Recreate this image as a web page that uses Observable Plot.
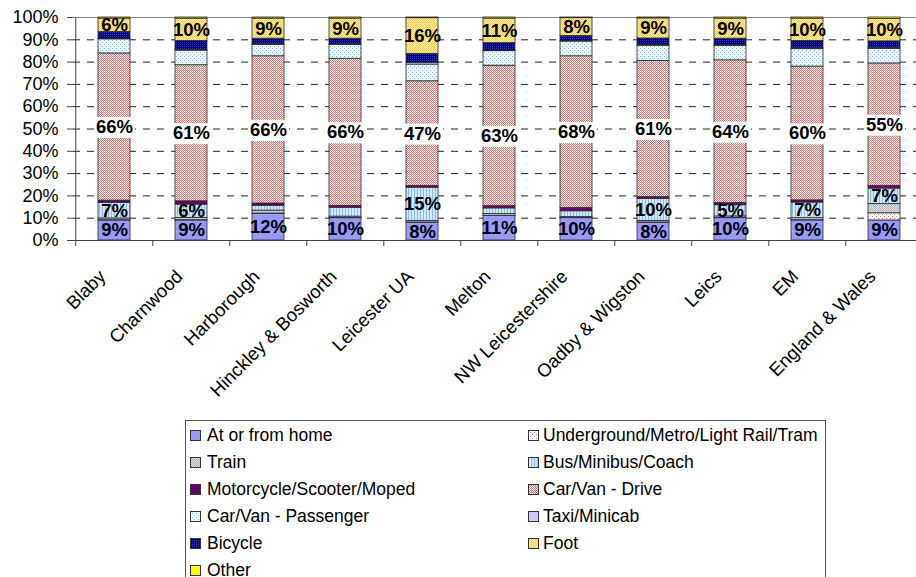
<!DOCTYPE html>
<html>
<head>
<meta charset="utf-8">
<script src="https://cdn.jsdelivr.net/npm/d3@7"></script>
<script src="https://cdn.jsdelivr.net/npm/@observablehq/plot@0.6"></script>
<style>
  body { margin: 0; background: #fff; font-family: "Liberation Sans", Arial, sans-serif; }
  #wrap { position: relative; width: 916px; height: 577px; overflow: hidden; background: #fff; }
  #chart { position: absolute; left: 0; top: 0; }
  #legend { position: absolute; left: 185px; top: 420px; width: 641px; height: 180px;
            border: 1px solid #555; box-sizing: border-box; background: #fff; }
  .item { position: absolute; height: 20px; display: flex; align-items: center;
          font-size: 17.5px; color: #000; white-space: nowrap; }
  .item svg { margin-right: 6px; flex: none; }
  .item.right svg { margin-right: 4px; }
</style>
</head>
<body>
<div id="wrap">
  <svg width="0" height="0" style="position:absolute">
    <defs>
      <pattern id="p-under" width="4" height="4" patternUnits="userSpaceOnUse">
        <rect width="4" height="4" fill="#fff"/>
        <rect x="0" y="0" width="1" height="1" fill="#E0709A"/>
        <rect x="2" y="2" width="1" height="1" fill="#E0709A"/>
      </pattern>
      <pattern id="p-train" width="2" height="2" patternUnits="userSpaceOnUse">
        <rect width="2" height="2" fill="#E2E2E2"/>
        <rect x="0" y="0" width="1" height="1" fill="#B2B2B2"/>
        <rect x="1" y="1" width="1" height="1" fill="#B2B2B2"/>
      </pattern>
      <pattern id="p-bus" width="3" height="3" patternUnits="userSpaceOnUse">
        <rect width="3" height="3" fill="#D3E8FF"/>
        <rect x="0" y="0" width="1" height="3" fill="#86BBF0"/>
      </pattern>
      <pattern id="p-drive" width="2" height="2" patternUnits="userSpaceOnUse">
        <rect width="2" height="2" fill="#fff"/>
        <rect x="0" y="0" width="1" height="1" fill="#F06868"/>
        <rect x="1" y="1" width="1" height="1" fill="#F06868"/>
      </pattern>
      <pattern id="p-pass" width="4" height="4" patternUnits="userSpaceOnUse">
        <rect width="4" height="4" fill="#EDF6FF"/>
        <rect x="0" y="0" width="1" height="1" fill="#7FB5EA"/>
        <rect x="2" y="2" width="1" height="1" fill="#7FB5EA"/>
      </pattern>
      <pattern id="p-bike" width="2" height="2" patternUnits="userSpaceOnUse">
        <rect width="2" height="2" fill="#000080"/>
        <rect x="0" y="0" width="1" height="1" fill="#3434B8"/>
      </pattern>
      <pattern id="p-foot" width="2" height="2" patternUnits="userSpaceOnUse">
        <rect width="2" height="2" fill="#FFEE9C"/>
        <rect x="0" y="0" width="1" height="1" fill="#F2CC5E"/>
        <rect x="1" y="1" width="1" height="1" fill="#F2CC5E"/>
      </pattern>
    </defs>
  </svg>
  <div id="chart"></div>
  <div id="legend"></div>
</div>
<script>
// Areas along the x axis
const areas = ["Blaby", "Charnwood", "Harborough", "Hinckley & Bosworth", "Leicester UA", "Melton",
  "NW Leicestershire", "Oadby & Wigston", "Leics", "EM", "England & Wales"];

// Modes of travel to work, stacked bottom to top
const modes = ["At or from home", "Underground/Metro/Light Rail/Tram", "Train", "Bus/Minibus/Coach",
  "Motorcycle/Scooter/Moped", "Car/Van - Drive", "Car/Van - Passenger", "Taxi/Minicab",
  "Bicycle", "Foot", "Other"];

// Share of working residents using each mode (%), one value per area
const atHome       = [9, 9, 12, 10, 8, 11, 10, 8, 10, 9, 9];
const underground  = [0.1, 0.1, 0.1, 0.1, 0.1, 0.1, 0.1, 0.1, 0.1, 0.1, 3.2];
const train        = [0.8, 1.0, 1.3, 0.6, 0.6, 0.8, 0.5, 0.6, 0.7, 0.9, 4.1];
const bus          = [7, 6, 2.2, 4.0, 15, 2.5, 2.5, 10, 5, 7, 7];
const motorcycle   = [1.0, 1.5, 1.0, 0.8, 0.7, 1.0, 1.5, 0.8, 1.0, 1.0, 1.1];
const carDrive     = [66, 61, 66, 66, 47, 63, 68, 61, 64, 60, 55];
const carPassenger = [6.3, 6.5, 5.1, 6.2, 7.5, 6.5, 6.6, 6.8, 6.4, 7.8, 6.5];
const taxi         = [0.3, 0.4, 0.3, 0.3, 0.8, 0.3, 0.3, 0.4, 0.3, 0.4, 0.5];
const bicycle      = [3.0, 4.0, 2.5, 2.5, 4.0, 3.3, 2.2, 2.9, 3.0, 3.3, 2.9];
const foot         = [6, 10, 9, 9, 16, 11, 8, 9, 9, 10, 10];
const other        = [0.5, 0.5, 0.5, 0.5, 0.3, 0.5, 0.3, 0.4, 0.5, 0.5, 0.7];

const series = [atHome, underground, train, bus, motorcycle, carDrive, carPassenger, taxi, bicycle, foot, other];

// Y axis ticks
const yTicks = [0, 10, 20, 30, 40, 50, 60, 70, 80, 90, 100];

// Fill (solid colour or pattern) for each mode
const fills = {
  "At or from home": "#9999FF",
  "Underground/Metro/Light Rail/Tram": "url(#p-under)",
  "Train": "url(#p-train)",
  "Bus/Minibus/Coach": "url(#p-bus)",
  "Motorcycle/Scooter/Moped": "#660066",
  "Car/Van - Drive": "url(#p-drive)",
  "Car/Van - Passenger": "url(#p-pass)",
  "Taxi/Minicab": "#CCCCFF",
  "Bicycle": "url(#p-bike)",
  "Foot": "url(#p-foot)",
  "Other": "#FFFF00"
};

const rows = areas.flatMap((area, i) => modes.map((mode, j) => ({area, mode, value: series[j][i]})));

// Value labels: home and foot always; bus where it reaches 5%
function labelOf(d) {
  if (d.mode === "At or from home" || d.mode === "Foot") return d.value + "%";
  if (d.mode === "Bus/Minibus/Coach" && d.value >= 5) return d.value + "%";
  return null;
}
// Car driver labels sit on a white box
const driveLabel = d => d.mode === "Car/Van - Drive" ? d.value + "%" : null;

const x0 = 72.7, x1 = 924.5;
const step = (x1 - x0) / areas.length;
const stackOpts = {x: "area", y: "value", z: "mode", order: modes};

const chart = Plot.plot({
  width: 916,
  height: 415,
  marginLeft: 73,
  marginTop: 17,
  marginRight: 0,
  marginBottom: 175,
  x: {domain: areas, range: [x0, x1], paddingInner: 0.587, paddingOuter: 0.2935, label: null},
  y: {domain: [0, 100], label: null},
  color: {type: "identity"},
  style: {fontFamily: "'Liberation Sans', Arial, sans-serif", color: "#000", background: "transparent", overflow: "visible"},
  marks: [
    Plot.ruleY(yTicks.filter(v => v > 0 && v < 100), {stroke: "#222", strokeDasharray: "7,7", strokeWidth: 1}),
    Plot.ruleY([100], {stroke: "#8a8a8a"}),
    Plot.barY(rows, Plot.stackY({...stackOpts, fill: d => fills[d.mode], stroke: "#2a2a2a", strokeWidth: 0.8})),
    Plot.ruleY([0], {stroke: "#444"}),
    Plot.ruleX([areas[0]], {x: d => d, dx: -step / 2, y1: 0, y2: 100, stroke: "#444"}),
    Plot.ruleX(areas, {x: d => d, dx: -step / 2, y1: 0, y2: -2.7, stroke: "#444"}),
    Plot.axisY({ticks: yTicks, tickFormat: d => d + "%", tickSize: 6, tickPadding: 9, fontSize: 18, stroke: "#444"}),
    Plot.axisX({tickSize: 0, tickRotate: -45, tickPadding: 33, dx: -12, fontSize: 18.5}),
    Plot.text(rows, Plot.stackY({...stackOpts, text: labelOf, fontWeight: "bold", fontSize: 18.5, fill: "#000"})),
    Plot.text(rows, Plot.stackY({...stackOpts, text: driveLabel, fontWeight: "bold", fontSize: 18.5, fill: "#000", ariaDescription: "drive-label"}))
  ]
});

document.getElementById("chart").append(chart);

// White background boxes behind the car-driver labels
chart.querySelectorAll('g[aria-description="drive-label"] text').forEach(t => {
  const b = t.getBBox();
  if (!b.width) return;
  const r = document.createElementNS("http://www.w3.org/2000/svg", "rect");
  r.setAttribute("x", b.x - 2);
  r.setAttribute("y", b.y + 1);
  r.setAttribute("width", b.width + 4);
  r.setAttribute("height", b.height);
  r.setAttribute("fill", "#fff");
  r.setAttribute("stroke", "none");
  const tr = t.getAttribute("transform");
  if (tr) r.setAttribute("transform", tr);
  t.parentNode.insertBefore(r, t);
});

// Legend: two columns, filled row by row
const legend = document.getElementById("legend");
modes.forEach((mode, k) => {
  const row = Math.floor(k / 2), col = k % 2;
  const item = document.createElement("div");
  item.className = "item" + (col ? " right" : "");
  item.style.left = (col === 0 ? 4 : 342) + "px";
  item.style.top = (4 + row * 27) + "px";
  item.innerHTML = `<svg width="11" height="11"><rect x="0.5" y="0.5" width="10" height="10" fill="${fills[mode]}" stroke="#333" stroke-width="1"/></svg>`;
  const span = document.createElement("span");
  span.textContent = mode;
  item.append(span);
  legend.append(item);
});
</script>
</body>
</html>
